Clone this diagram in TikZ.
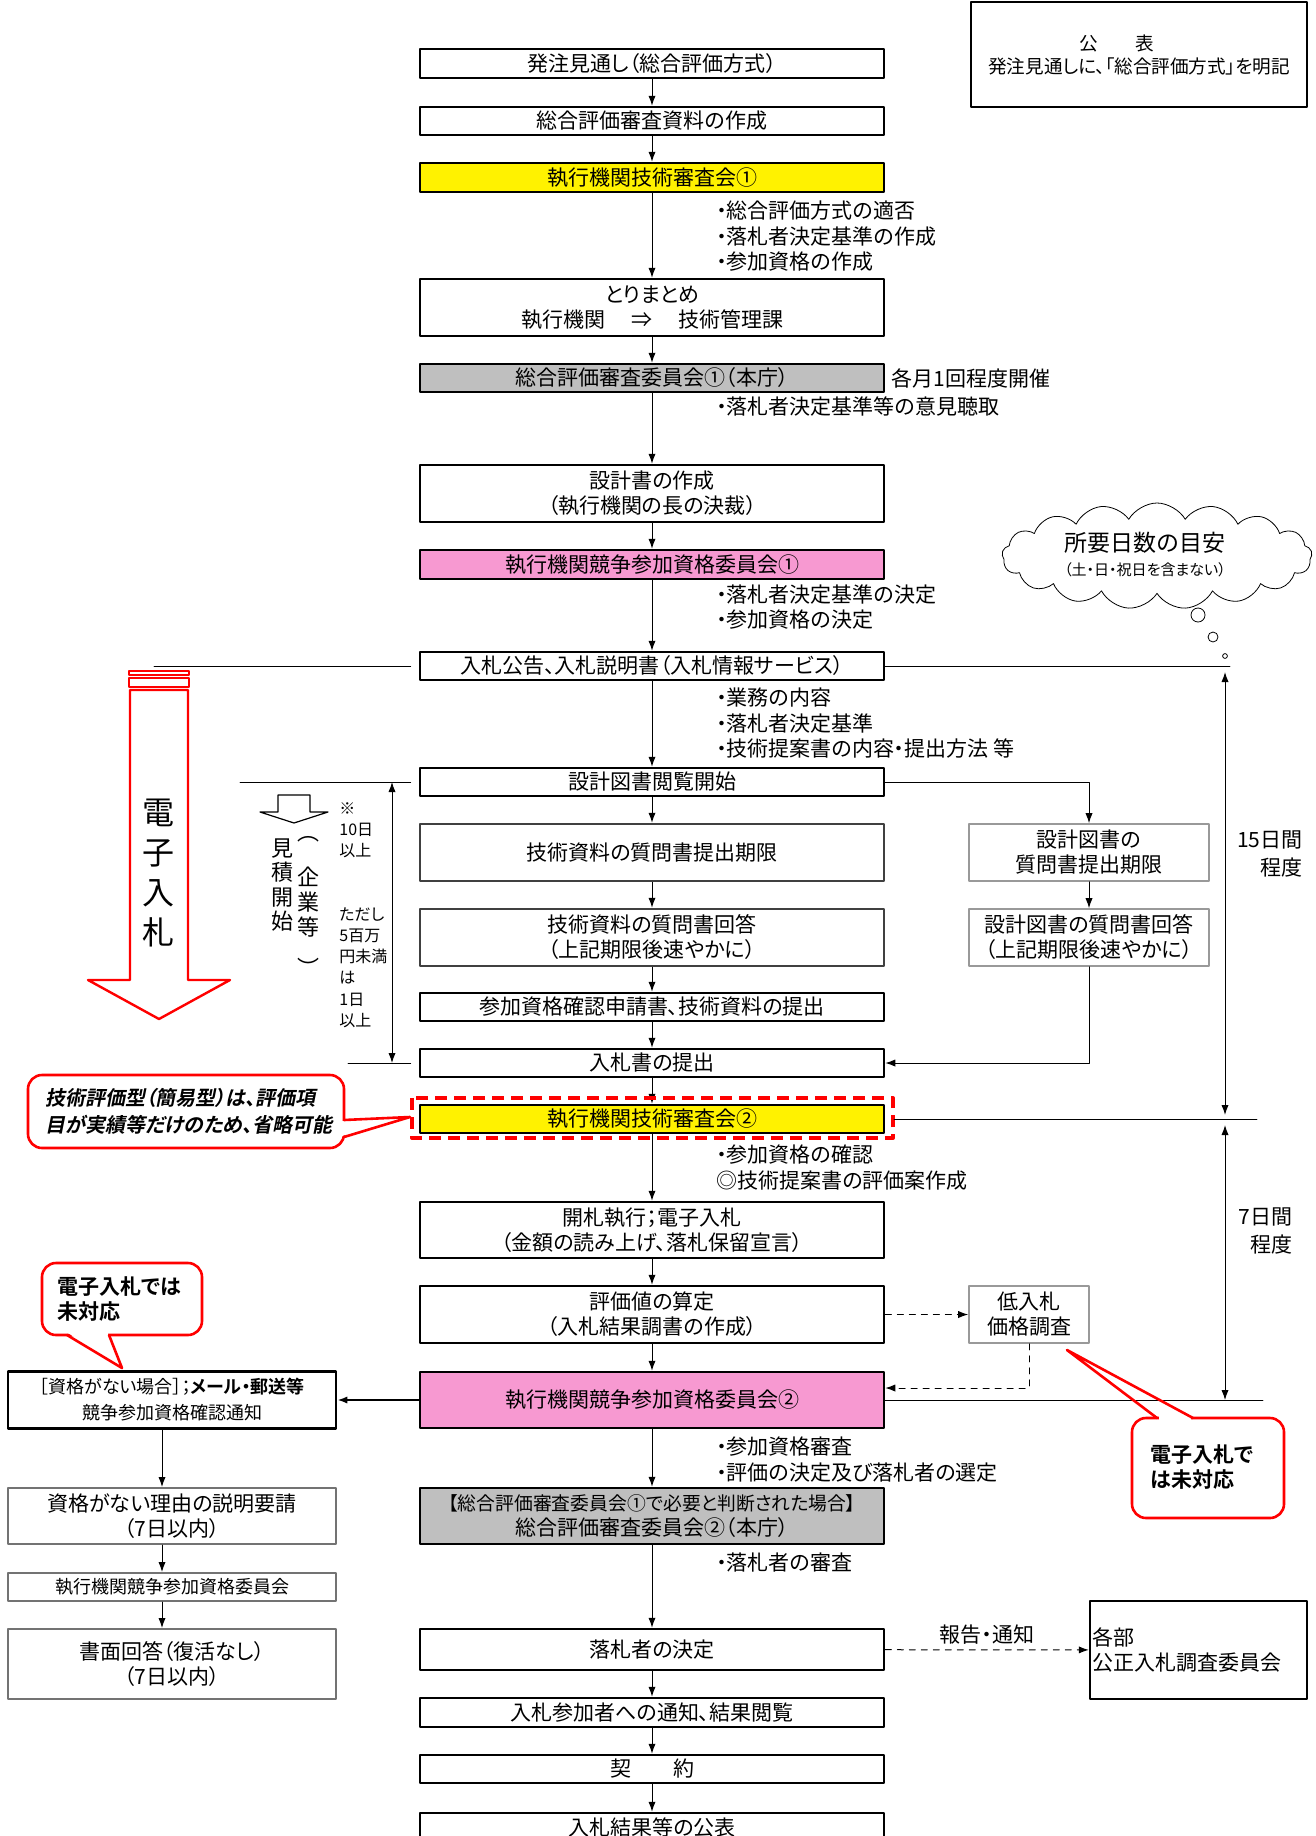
\documentclass[tikz,border=0pt]{standalone}
\usepackage{fontspec}
\setmainfont{Noto Sans CJK JP}[BoldFont={Noto Sans CJK JP Bold},RawFeature=+palt]
\newfontfamily\jpbi{Noto Sans CJK JP Bold}[FakeSlant=0.2,RawFeature=+palt]
\usetikzlibrary{arrows.meta,shapes.symbols}

\begin{document}
\begin{tikzpicture}[line cap=round,line join=round,>={Latex[length=5pt,width=3.6pt]},x=0.5pt,y=-0.5pt,
	box/.style={draw,line width=1.25pt,fill=white,minimum width=232pt,inner sep=1pt,align=center,font=\fontsize{10.5}{12.5}\selectfont},
	sidebox/.style={box,draw=black!40,line width=0.8pt,minimum width=120pt},
	leftbox/.style={box,minimum width=164pt},
	note/.style={anchor=west,align=left,inner sep=0pt,font=\fontsize{10.5}{12.75}\selectfont},
	small/.style={anchor=west,align=left,inner sep=0pt,font=\fontsize{8}{10.6}\selectfont},
	vert/.style={align=center,inner sep=0pt,font=\fontsize{11}{12.3}\selectfont},
	flow/.style={->,line width=0.5pt},
	redline/.style={draw=red,line width=1.3pt},
	callout/.style={anchor=west,align=left,inner sep=0pt,font=\bfseries\fontsize{10.5}{12.5}\selectfont}]
	\useasboundingbox (0,0) rectangle (1316,1836);
	\clip (0,0) rectangle (1316,1836);
	% main column
	\node[box,minimum height=14.5pt] (m1) at (652,63.5) {発注見通し（総合評価方式）};
	\node[box,minimum height=14pt] (m2) at (652,121) {総合評価審査資料の作成};
	\node[box,fill=yellow,minimum height=14.5pt] (m3) at (652,177.5) {執行機関技術審査会①};
	\node[box,minimum height=28.5pt] (m4) at (652,307.5) {とりまとめ\\執行機関\hspace{13pt}⇒\hspace{13pt}技術管理課};
	\node[box,fill=black!25,minimum height=14pt] (m5) at (652,378) {総合評価審査委員会①（本庁）};
	\node[box,minimum height=28.5pt] (m6) at (652,493.5) {設計書の作成\\（執行機関の長の決裁）};
	\node[box,fill=magenta!40,minimum height=14.5pt] (m7) at (652,564.5) {執行機関競争参加資格委員会①};
	\node[box,minimum height=14pt] (m8) at (652,666) {入札公告、入札説明書（入札情報サービス）};
	\node[box,minimum height=14pt] (m9) at (652,782) {設計図書閲覧開始};
	\node[box,draw=black!75,minimum height=28.5pt] (m10) at (652,852.5) {技術資料の質問書提出期限};
	\node[box,draw=black!75,minimum height=28.5pt] (m11) at (652,937.5) {技術資料の質問書回答\\（上記期限後速やかに）};
	\node[box,minimum height=14pt] (m12) at (652,1007) {参加資格確認申請書、技術資料の提出};
	\node[box,minimum height=14pt] (m13) at (652,1063) {入札書の提出};
	\node[box,fill=yellow,minimum height=14pt] (m14) at (652,1119) {執行機関技術審査会②};
	\node[box,minimum height=28pt] (m15) at (652,1230) {開札執行；電子入札\\（金額の読み上げ、落札保留宣言）};
	\node[box,minimum height=28.5pt] (m16) at (652,1314.5) {評価値の算定\\（入札結果調書の作成）};
	\node[box,fill=magenta!40,minimum height=28pt] (m17) at (652,1400) {執行機関競争参加資格委員会②};
	\node[box,fill=black!25,minimum height=28pt] (m18) at (652,1516) {{\fontsize{9.4}{11}\selectfont 【総合評価審査委員会①で必要と判断された場合】}\\総合評価審査委員会②（本庁）};
	\node[box,minimum height=20.5pt] (m19) at (652,1649.5) {落札者の決定};
	\node[box,minimum height=14.5pt] (m20) at (652,1712.5) {入札参加者への通知、結果閲覧};
	\node[box,minimum height=14pt] (m21) at (652,1769) {契\hspace{21pt}約};
	\node[box,minimum height=14.5pt] (m22) at (652,1827.5) {入札結果等の公表};
	\draw [flow] (m1) -- (m2);
	\draw [flow] (m2) -- (m3);
	\draw [flow] (m3) -- (m4);
	\draw [flow] (m4) -- (m5);
	\draw [flow] (m5) -- (m6);
	\draw [flow] (m6) -- (m7);
	\draw [flow] (m7) -- (m8);
	\draw [flow] (m8) -- (m9);
	\draw [flow] (m9) -- (m10);
	\draw [flow] (m10) -- (m11);
	\draw [flow] (m11) -- (m12);
	\draw [flow] (m12) -- (m13);
	\draw [flow] (m13) -- (m14);
	\draw [flow] (m14) -- (m15);
	\draw [flow] (m15) -- (m16);
	\draw [flow] (m16) -- (m17);
	\draw [flow] (m17) -- (m18);
	\draw [flow] (m18) -- (m19);
	\draw [flow] (m19) -- (m20);
	\draw [flow] (m20) -- (m21);
	\draw [flow] (m21) -- (m22);
	% notes beside the main column
	\node[note] (b1) at (716,236.5) {・総合評価方式の適否\\・落札者決定基準の作成\\・参加資格の作成};
	\node[anchor=west,inner sep=0pt,font=\fontsize{10.5}{12.5}\selectfont] (monthly) at (891,378) {各月1回程度開催};
	\node[note] (b2) at (716,407) {・落札者決定基準等の意見聴取};
	\node[note] (b3) at (716,607) {・落札者決定基準の決定\\・参加資格の決定};
	\node[note] (b4) at (716,723.5) {・業務の内容\\・落札者決定基準\\・技術提案書の内容・提出方法 等};
	\node[note] (b5) at (716,1167.5) {・参加資格の確認\\◎技術提案書の評価案作成};
	\node[note] (b6) at (716,1459.5) {・参加資格審査\\・評価の決定及び落札者の選定};
	\node[note] (b7) at (716,1562) {・落札者の審査};
	% red frame round m14
	\draw [red,line width=2pt,line cap=butt,dash pattern=on 6pt off 3.5pt] (412,1098) rectangle (893,1138);
	\coordinate (f14) at (894,1119);
	% right column
	\node[sidebox,minimum height=28.5pt] (r1) at (1089,852.5) {設計図書の\\質問書提出期限};
	\node[sidebox,minimum height=28.5pt] (r2) at (1089,937.5) {設計図書の質問書回答\\（上記期限後速やかに）};
	\node[sidebox,minimum width=60pt,minimum height=28.5pt] (r3) at (1029,1314.5) {低入札\\価格調査};
	\node[draw,line width=1.2pt,minimum width=108.5pt,minimum height=49pt,inner xsep=1pt,text width=106pt,align=left,font=\fontsize{10.5}{12.5}\selectfont] (rb) at (1198.5,1650) {各部\\公正入札調査委員会};
	\draw [flow] (m9.east) -| (r1.north);
	\draw [flow] (r1) -- (r2);
	\draw [flow] (r2.south) |- (m13.east);
	\draw [flow,dashed] (m16) -- (r3);
	\draw [flow,dashed] (r3.south) |- ([yshift=6pt]m17.east);
	\draw [flow,dashed] (m19) -- (rb) node[midway,above=-1pt,font=\fontsize{10.5}{12.5}\selectfont] {報告・通知};
	% day counts
	\coordinate (d1) at (1225,666);
	\coordinate (d2) at (1225,1119);
	\coordinate (d3) at (1225,1400);
	\draw (m8.east) -- (1230,666);
	\draw (f14) -- (1257,1119);
	\draw (m17.east) -- (1263,1400);
	\draw [<->,line width=0.5pt] ([yshift=-3pt]d1) -- ([yshift=2pt]d2);
	\draw [<->,line width=0.5pt] ([yshift=-3pt]d2) -- (d3);
	\node[anchor=east,align=right,inner sep=0pt,font=\fontsize{10.5}{14}\selectfont] (days15) at (1303,854) {15日間\\程度};
	\node[anchor=east,align=right,inner sep=0pt,font=\fontsize{10.5}{14}\selectfont] (days7) at (1293,1231) {7日間\\程度};
	\node[cloud,draw,cloud puffs=17,cloud puff arc=120,cloud ignores aspect,minimum width=155pt,minimum height=53pt,inner sep=0pt] (cld) at (1157,556) {};
	\node[align=center,inner sep=0pt] (cldtext) at (1145,555) {{\fontsize{11.5}{13}\selectfont 所要日数の目安}\\{\fontsize{7.5}{10}\selectfont （土・日・祝日を含まない）}};
	\draw (1198,615) circle (3.5pt);
	\draw (1213,637) circle (2.5pt);
	\draw (1225,656) circle (1.2pt);
	\node[draw,line width=1.2pt,minimum width=168pt,minimum height=52.5pt,align=center,font=\fontsize{9.3}{11.5}\selectfont] (pub) at (1139,54.5) {公\hspace{19pt}表\hspace*{22pt}\\発注見通しに、「総合評価方式」を明記};
	% left side
	\draw (154,666) -- ([xshift=-4pt]m8.west);
	\draw (240,782) -- ([xshift=-4pt]m9.west);
	\draw (348,1063) -- ([xshift=-4pt]m13.west);
	\draw [<->,line width=0.5pt] (392,782) -- (392,1063);
	\draw [red,line width=1.2pt] (130,690) -- (130,980) -- (88,980) -- (159,1019) -- (230,980) -- (188,980) -- (188,690) -- cycle;
	\draw [red,line width=0.9pt] (129,671) rectangle (189,675);
	\draw [red,line width=0.9pt] (129,678) rectangle (189,687);
	\node[align=center,inner sep=0pt,font=\fontsize{16}{20}\selectfont] (ebid) at (158,873) {電\\子\\入\\札};
	\draw [line width=0.6pt] (278,795) -- (310,795) -- (310,812) -- (328,812) -- (294,823) -- (260,812) -- (278,812) -- cycle;
	\node[vert] (est) at (282,885) {見\\積\\開\\始};
	\node[vert] (firm) at (308,902) {企\\業\\等};
	\node[vert] (firml) at (308,839) {︵};
	\node[vert] (firmr) at (308,967) {︶};
	\node[small] (ten) at (339,830) {※\\10日\\以上};
	\node[small] (oneday) at (339,967.5) {ただし\\5百万\\円未満\\は\\1日\\以上};
	\node[leftbox,minimum height=28.5pt,font=\fontsize{9}{13}\selectfont] (l1) at (172,1400) {［資格がない場合］；\textbf{メール・郵送等}\\競争参加資格確認通知};
	\node[leftbox,draw=black!55,line width=1pt,minimum height=28pt] (l2) at (172,1516) {資格がない理由の説明要請\\（7日以内）};
	\node[leftbox,draw=black!55,line width=1pt,minimum height=14pt,font=\fontsize{9}{11}\selectfont] (l3) at (172,1587) {執行機関競争参加資格委員会};
	\node[leftbox,draw=black!55,line width=1pt,minimum height=35pt] (l4) at (172,1664) {書面回答（復活なし）\\（7日以内）};
	\draw [->,line width=1pt] (m17) -- (l1);
	\draw [flow] ([xshift=-5pt]l1.south) -- ([xshift=-5pt]l2.north);
	\draw [flow] ([xshift=-5pt]l2.south) -- ([xshift=-5pt]l3.north);
	\draw [flow] ([xshift=-5pt]l3.south) -- ([xshift=-5pt]l4.north);
	% callouts
	\draw [redline,fill=white,rounded corners=7pt] (28,1075) rectangle (344,1148);
	\fill [white] (342,1121) -- (410,1117) -- (342,1136) -- cycle;
	\draw [redline] (344,1120) -- (410,1117) -- (344,1137);
	\node[anchor=west,align=left,inner sep=0pt,font=\jpbi\fontsize{10}{13.5}\selectfont] (c1) at (45,1111.5) {技術評価型（簡易型）は、評価項\\目が実績等だけのため、省略可能};
	\draw [redline,fill=white,rounded corners=7pt] (42,1263) rectangle (202,1335);
	\fill [white] (68,1333) -- (122,1368) -- (108,1333) -- cycle;
	\draw [redline] (67,1335) -- (122,1368) -- (109,1335);
	\node[callout] (c2) at (57,1299.5) {電子入札では\\未対応};
	\draw [redline,fill=white,rounded corners=7pt] (1132,1418) rectangle (1284,1518);
	\fill [white] (1159,1416) rectangle (1191,1420);
	\draw [redline] (1157,1418) -- (1067,1350) -- (1193,1418);
	\node[callout] (c3) at (1150,1467.5) {電子入札で\\は未対応};
\end{tikzpicture}
\end{document}
